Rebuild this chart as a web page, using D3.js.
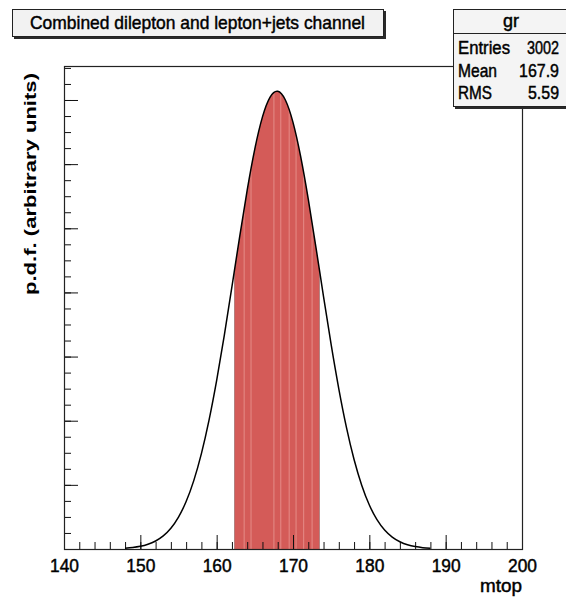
<!DOCTYPE html>
<html>
<head>
<meta charset="utf-8">
<script src="https://cdn.jsdelivr.net/npm/d3@7"></script>
<style>
  html, body { margin: 0; padding: 0; background: #ffffff; }
  svg { display: block; font-family: "Liberation Sans", Arial, Helvetica, sans-serif; }
  .heavy { stroke: #000; stroke-width: 0.45px; paint-order: fill; }
</style>
</head>
<body>
<svg id="chart" width="566" height="597"></svg>
<script>
// top mass points (GeV) and the combined probability density at each of them
const mtop = [148, 149, 150, 151, 152, 153, 154, 155, 156, 157, 158, 159, 160,
              161, 162, 163, 164, 165, 166, 167, 168, 169, 170, 171, 172, 173,
              174, 175, 176, 177, 178, 179, 180, 181, 182, 183, 184, 185, 186,
              187, 188];
const pdf = [0.00013, 0.00024, 0.00042, 0.00074, 0.00125, 0.00204, 0.00324,
             0.00498, 0.00740, 0.01066, 0.01487, 0.02009, 0.02629, 0.03331,
             0.04089, 0.04860, 0.05596, 0.06239, 0.06737, 0.07045, 0.07136,
             0.07000, 0.06651, 0.06120, 0.05454, 0.04707, 0.03935, 0.03185,
             0.02498, 0.01897, 0.01395, 0.00994, 0.00685, 0.00458, 0.00296,
             0.00186, 0.00113, 0.00066, 0.00038, 0.00021, 0.00011];

// one-sigma band (mean -/+ RMS) and the bin seams inside the filled band
const band = [162.3, 173.5];
const bandSeams = [163.6, 164.5, 167.5, 168.4, 169.5, 170.4, 171.4, 172.5];

// axis ticks
const xTickLabels = [140, 150, 160, 170, 180, 190, 200];
const yMajorTicks = [0, 0.01, 0.02, 0.03, 0.04, 0.05, 0.06, 0.07];

// texts
const titleText = "Combined dilepton and lepton+jets channel";
const statsName = "gr";
const statsLabels = ["Entries", "Mean", "RMS"];
const statsValues = ["3002", "167.9", "5.59"];
const xTitle = "mtop";
const yTitle = "p.d.f. (arbitrary units)";

const svg = d3.select("#chart");
const frame = { left: 64, right: 522, top: 66, bottom: 549 };

const x = d3.scaleLinear().domain([140, 200]).range([frame.left, frame.right]);
const y = d3.scaleLinear().domain([0, 0.0753]).range([frame.bottom, frame.top]);

const points = mtop.map((m, i) => ({ m, p: pdf[i] }));

const areaGen = d3.area()
  .x(d => x(d.m)).y0(y(0)).y1(d => y(d.p))
  .curve(d3.curveNatural);
const lineGen = d3.line()
  .x(d => x(d.m)).y(d => y(d.p))
  .curve(d3.curveNatural);

const defs = svg.append("defs");
defs.append("clipPath").attr("id", "bandClip")
  .append("rect")
  .attr("x", x(band[0])).attr("y", frame.top)
  .attr("width", x(band[1]) - x(band[0]))
  .attr("height", frame.bottom - frame.top);
defs.append("clipPath").attr("id", "underCurve")
  .append("path").attr("d", areaGen(points));

// filled one-sigma band under the curve
const bandG = svg.append("g").attr("clip-path", "url(#bandClip)")
  .append("g").attr("clip-path", "url(#underCurve)");
bandG.append("rect")
  .attr("x", x(band[0])).attr("y", frame.top)
  .attr("width", x(band[1]) - x(band[0]))
  .attr("height", frame.bottom - frame.top)
  .attr("fill", "#d45b58");
bandG.selectAll("line.seam").data(bandSeams).enter().append("line")
  .attr("class", "seam")
  .attr("x1", d => x(d)).attr("x2", d => x(d))
  .attr("y1", frame.top).attr("y2", frame.bottom)
  .attr("stroke", "#e58c88").attr("stroke-width", 1);
bandG.selectAll("line.edge").data(band).enter().append("line")
  .attr("class", "edge")
  .attr("x1", d => x(d)).attr("x2", d => x(d))
  .attr("y1", frame.top).attr("y2", frame.bottom)
  .attr("stroke", "#8c6a69").attr("stroke-width", 1);

// axes: ticks point into the frame
const xMinor = d3.range(140, 200.01, 2);
const yMinor = d3.range(0, 0.0751, 0.0025);

const xMinorAxis = d3.axisBottom(x).tickValues(xMinor).tickSize(-7).tickFormat("");
const xMajorAxis = d3.axisBottom(x).tickValues(xTickLabels)
  .tickSizeInner(-14).tickSizeOuter(0).tickPadding(10).tickFormat(d3.format("d"));
const yMinorAxis = d3.axisLeft(y).tickValues(yMinor).tickSize(-7).tickFormat("");
const yMajorAxis = d3.axisLeft(y).tickValues(yMajorTicks).tickSize(-14).tickFormat("");

function styleAxis(g) {
  g.select(".domain").remove();
  g.selectAll(".tick line").attr("stroke", "#111").attr("stroke-width", 1);
}

svg.append("g").attr("transform", `translate(0,${frame.bottom})`).call(xMinorAxis).call(styleAxis);
const xg = svg.append("g").attr("transform", `translate(0,${frame.bottom})`).call(xMajorAxis).call(styleAxis);
xg.selectAll(".tick text")
  .attr("class", "heavy")
  .attr("font-size", 18).attr("fill", "#000")
  .attr("font-family", "Liberation Sans, Arial, sans-serif")
  .attr("textLength", 29).attr("lengthAdjust", "spacingAndGlyphs");
svg.append("g").attr("transform", `translate(${frame.left},0)`).call(yMinorAxis).call(styleAxis);
svg.append("g").attr("transform", `translate(${frame.left},0)`).call(yMajorAxis).call(styleAxis);

// frame
svg.append("rect")
  .attr("x", frame.left + 0.5).attr("y", frame.top + 0.5)
  .attr("width", frame.right - frame.left).attr("height", frame.bottom - frame.top)
  .attr("fill", "none").attr("stroke", "#222").attr("stroke-width", 1.2);

// density curve
svg.append("path")
  .attr("d", lineGen(points))
  .attr("fill", "none").attr("stroke", "#000").attr("stroke-width", 1.5);

// axis titles
svg.append("text")
  .attr("class", "heavy")
  .attr("x", frame.right).attr("y", 592)
  .attr("text-anchor", "end")
  .attr("font-size", 18)
  .attr("textLength", 42).attr("lengthAdjust", "spacingAndGlyphs")
  .text(xTitle);

svg.append("text")
  .attr("transform", "translate(36,184) rotate(-90)")
  .attr("text-anchor", "middle")
  .attr("font-size", 17).attr("font-weight", "bold")
  .attr("textLength", 222).attr("lengthAdjust", "spacingAndGlyphs")
  .text(yTitle);

// title box with drop shadow
const tb = { x: 12, y: 9, w: 371, h: 27 };
svg.append("rect").attr("x", tb.x + 2).attr("y", tb.y + 2)
  .attr("width", tb.w + 1).attr("height", tb.h + 1).attr("fill", "#2a2a2a");
svg.append("rect").attr("x", tb.x + 0.5).attr("y", tb.y + 0.5)
  .attr("width", tb.w).attr("height", tb.h)
  .attr("fill", "#f2f2f2").attr("stroke", "#222").attr("stroke-width", 1);
svg.append("text")
  .attr("class", "heavy")
  .attr("x", tb.x + tb.w / 2).attr("y", tb.y + 20)
  .attr("text-anchor", "middle")
  .attr("font-size", 19)
  .attr("textLength", 335).attr("lengthAdjust", "spacingAndGlyphs")
  .text(titleText);

// statistics box
const sb = { x: 453, y: 9, w: 122, h: 97, head: 24 };
svg.append("rect").attr("x", sb.x + 2).attr("y", sb.y + 2)
  .attr("width", sb.w).attr("height", sb.h + 1).attr("fill", "#2a2a2a");
svg.append("rect").attr("x", sb.x + 0.5).attr("y", sb.y + 0.5)
  .attr("width", sb.w).attr("height", sb.h)
  .attr("fill", "#f4f4f4").attr("stroke", "#222").attr("stroke-width", 1);
svg.append("line")
  .attr("x1", sb.x).attr("x2", sb.x + sb.w)
  .attr("y1", sb.y + sb.head + 0.5).attr("y2", sb.y + sb.head + 0.5)
  .attr("stroke", "#222").attr("stroke-width", 1);
svg.append("text")
  .attr("class", "heavy")
  .attr("x", 511).attr("y", sb.y + 18)
  .attr("text-anchor", "middle").attr("font-size", 18)
  .text(statsName);

const rowBase = [54, 77, 99];
const labelWidths = [52, 39, 34];
const valueWidths = [32, 40, 31];
statsLabels.forEach((lab, i) => {
  svg.append("text")
    .attr("class", "heavy")
    .attr("x", 458).attr("y", rowBase[i])
    .attr("font-size", 18)
    .attr("textLength", labelWidths[i]).attr("lengthAdjust", "spacingAndGlyphs")
    .text(lab);
  svg.append("text")
    .attr("class", "heavy")
    .attr("x", 559).attr("y", rowBase[i])
    .attr("text-anchor", "end")
    .attr("font-size", 18)
    .attr("textLength", valueWidths[i]).attr("lengthAdjust", "spacingAndGlyphs")
    .text(statsValues[i]);
});
</script>
</body>
</html>
